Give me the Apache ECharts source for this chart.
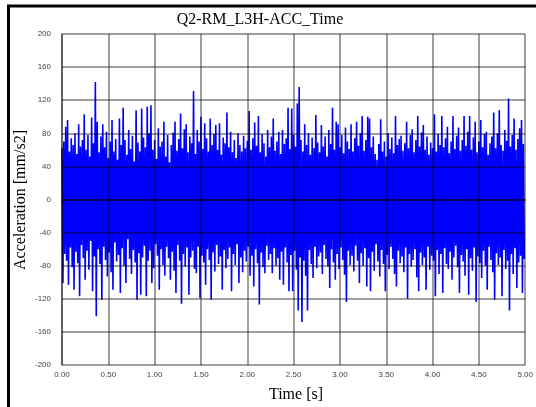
<!DOCTYPE html>
<html>
<head>
<meta charset="utf-8">
<script src="https://cdn.jsdelivr.net/npm/echarts@6/dist/echarts.min.js"></script>
<style>
  html, body { margin: 0; padding: 0; background: #fff; }
  #chart { width: 536px; height: 407px; }
</style>
</head>
<body>
<div id="chart"></div>
<script>
// Acceleration record Q2-RM_L3H, sampled every 0.01 s.
// Each 0.02 s step holds one positive peak followed by one negative peak.
const chartTitle = 'Q2-RM_L3H-ACC_Time';
const xAxisTitle = 'Time [s]';
const yAxisTitle = 'Acceleration [mm/s2]';
const timeTicks = [0, 0.5, 1, 1.5, 2, 2.5, 3, 3.5, 4, 4.5, 5];
const accTicks = [-200, -160, -120, -80, -40, 0, 40, 80, 120, 160, 200];
const stepSeconds = 0.02;

// positive peaks [mm/s2]
const peaksUp = [
  62, 70, 88, 96, 58, 74, 66, 80, 55, 91,
  64, 72, 103, 60, 78, 52, 99, 68, 142, 94,
  57, 76, 91, 63, 82, 50, 70, 96, 58, 73,
  48, 98, 66, 111, 72, 54, 84, 61, 77, 46,
  108, 69, 58, 110, 75, 63, 112, 80, 114, 60,
  72, 49, 86, 64, 70, 94, 52, 78, 45, 66,
  81, 94, 59, 73, 104, 62, 85, 91, 57, 76,
  68, 131, 55, 84, 70, 100, 61, 92, 74, 58,
  98, 66, 79, 90, 60, 92, 54, 75, 68, 105,
  63, 82, 57, 72, 50, 80, 66, 58, 77, 62,
  71, 107, 60, 74, 93, 65, 101, 57, 79, 68,
  52, 84, 63, 76, 98, 59, 70, 82, 55, 84,
  67, 74, 111, 61, 110, 78, 64, 116, 136, 72,
  58, 91, 66, 80, 54, 75, 62, 102, 69, 57,
  90, 64, 76, 52, 84, 67, 111, 60, 94, 91,
  63, 78, 56, 87, 70, 61, 91, 58, 74, 94,
  65, 80, 101, 59, 72, 100, 98, 63, 76, 55,
  48, 67, 97, 58, 70, 52, 80, 61, 75, 56,
  101, 66, 73, 77, 59, 68, 94, 62, 78, 85,
  57, 72, 101, 64, 81, 90, 60, 76, 54, 69,
  62, 103, 58, 79, 66, 101, 63, 74, 88, 56,
  70, 101, 61, 77, 87, 59, 72, 101, 65, 82,
  101, 60, 75, 94, 57, 70, 96, 63, 79, 82,
  54, 68, 76, 105, 62, 80, 108, 66, 59, 84,
  71, 122, 64, 78, 98, 60, 73, 86, 96, 67
];

// negative peaks [mm/s2]
const peaksDown = [
  -101, -66, -74, -103, -58, -82, -109, -63, -77, -117,
  -55, -71, -97, -62, -85, -50, -111, -69, -141, -60,
  -78, -121, -57, -73, -93, -64, -88, -109, -52, -75,
  -67, -113, -59, -80, -101, -48, -72, -90, -61, -76,
  -121, -65, -115, -70, -56, -117, -74, -62, -101, -83,
  -54, -68, -109, -60, -79, -92, -57, -71, -97, -63,
  -86, -113, -55, -74, -126, -66, -81, -58, -115, -70,
  -62, -84, -89, -57, -119, -68, -76, -103, -60, -73,
  -121, -64, -87, -55, -78, -69, -109, -61, -83, -72,
  -58, -111, -66, -79, -54, -101, -70, -88, -62, -75,
  -57, -92, -68, -105, -60, -77, -127, -64, -82, -89,
  -56, -73, -66, -89, -59, -80, -71, -97, -63, -103,
  -58, -76, -111, -67, -111, -62, -85, -134, -70, -148,
  -74, -92, -134, -61, -78, -95, -57, -83, -69, -64,
  -90, -55, -72, -81, -107, -60, -76, -97, -66, -84,
  -58, -73, -91, -124, -62, -79, -68, -87, -56, -74,
  -101, -65, -80, -59, -105, -71, -111, -63, -86, -54,
  -75, -93, -61, -78, -111, -67, -84, -57, -72, -90,
  -105, -62, -77, -69, -88, -58, -120, -66, -81, -73,
  -60, -94, -111, -64, -79, -70, -109, -57, -85, -68,
  -74, -117, -61, -90, -66, -113, -59, -78, -84, -63,
  -97, -70, -56, -82, -113, -67, -75, -92, -60, -115,
  -71, -86, -58, -124, -69, -77, -95, -62, -80, -109,
  -57, -73, -88, -121, -65, -79, -70, -117, -61, -84,
  -74, -134, -66, -90, -59, -107, -76, -68, -113, -72
];

// interleave the two peak lists into one time series
const signal = [];
for (let i = 0; i < peaksUp.length; i++) {
  signal.push([+(i * stepSeconds).toFixed(3), peaksUp[i]]);
  signal.push([+(i * stepSeconds + stepSeconds / 2).toFixed(3), peaksDown[i]]);
}

const gridLine = { color: 'rgba(0,0,0,0.5)', width: 1.5 };
const tickFont = { fontFamily: 'Liberation Sans', fontSize: 8, color: '#444' };

const chart = echarts.init(document.getElementById('chart'), null, { renderer: 'canvas' });
chart.setOption({
  backgroundColor: '#fff',
  animation: false,
  grid: { left: 62, top: 34, right: 5, bottom: 42 },
  graphic: [
    { type: 'rect', shape: { x: 8.5, y: 6, width: 700, height: 700 },
      style: { fill: 'none', stroke: '#000', lineWidth: 3 }, silent: true },
    { type: 'text', x: 260, y: 20,
      style: { text: chartTitle, fontFamily: 'Liberation Serif', fontSize: 16,
               fill: '#000', textAlign: 'center', textVerticalAlign: 'middle' } },
    { type: 'text', x: 21, y: 200, rotation: Math.PI / 2,
      style: { text: yAxisTitle, fontFamily: 'Liberation Serif', fontSize: 16,
               fill: '#000', textAlign: 'center', textVerticalAlign: 'middle' } },
    { type: 'text', x: 296, y: 395,
      style: { text: xAxisTitle, fontFamily: 'Liberation Serif', fontSize: 16,
               fill: '#000', textAlign: 'center', textVerticalAlign: 'middle' } }
  ],
  xAxis: {
    type: 'value',
    min: timeTicks[0], max: timeTicks[timeTicks.length - 1],
    interval: timeTicks[1] - timeTicks[0],
    axisLine: { show: true, lineStyle: gridLine },
    axisTick: { show: false },
    axisLabel: Object.assign({ margin: 6, formatter: v => v.toFixed(2) }, tickFont),
    splitLine: { show: true, lineStyle: gridLine }
  },
  yAxis: {
    type: 'value',
    min: accTicks[0], max: accTicks[accTicks.length - 1],
    interval: accTicks[1] - accTicks[0],
    axisLine: { show: true, onZero: false, lineStyle: gridLine },
    axisTick: { show: false },
    axisLabel: Object.assign({ margin: 11 }, tickFont),
    splitLine: { show: true, lineStyle: gridLine }
  },
  series: [{
    type: 'line',
    data: signal,
    z: -1,
    symbol: 'none',
    sampling: null,
    lineStyle: { color: '#0000ff', width: 1.6 }
  }]
});
</script>
</body>
</html>
